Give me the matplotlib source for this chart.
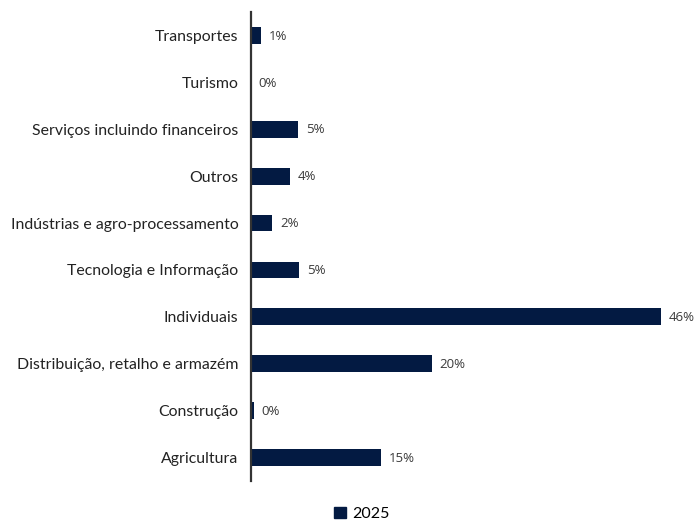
import matplotlib.pyplot as plt
from matplotlib.patches import Patch

# Sector shares, bottom to top as drawn
sectors = [
    "Agricultura",
    "Construção",
    "Distribuição, retalho e armazém",
    "Individuais",
    "Tecnologia e Informação",
    "Indústrias e agro-processamento",
    "Outros",
    "Serviços incluindo financeiros",
    "Turismo",
    "Transportes",
]
share_2025 = [14.6, 0.3, 20.3, 46.0, 5.4, 2.4, 4.4, 5.3, 0.0, 1.1]
series_name = "2025"

bar_color = "#031a42"
text_color = "#222222"
label_color = "#3a3a3a"

plt.rcParams["font.family"] = ["Lato", "DejaVu Sans"]

fig = plt.figure(figsize=(7.0, 5.22), dpi=100)
ax = fig.add_axes([251 / 700, 41 / 522, 439 / 700, 469 / 522])

ypos = list(range(len(sectors)))
bars = ax.barh(ypos, share_2025, height=0.36, color=bar_color)

for rect, val in zip(bars, share_2025):
    ax.annotate(
        f"{val:.0f}%",
        xy=(rect.get_width(), rect.get_y() + rect.get_height() / 2),
        xytext=(5.5, -0.5),
        textcoords="offset points",
        va="center",
        ha="left",
        fontsize=9.5,
        fontweight="medium",
        color=label_color,
        family=["Open Sans", "DejaVu Sans"],
    )

ax.set_xlim(0, 49.25)
ax.set_ylim(-0.5, len(sectors) - 0.5)
ax.set_yticks(ypos)
ax.set_yticklabels(sectors, fontsize=11.4, color=text_color)
ax.tick_params(axis="y", length=0, pad=9)
ax.set_xticks([])

for side in ("top", "right", "bottom"):
    ax.spines[side].set_visible(False)
ax.spines["left"].set_color("#333333")
ax.spines["left"].set_linewidth(1.6)

fig.legend(
    handles=[Patch(color=bar_color, label=series_name)],
    loc="center",
    bbox_to_anchor=(0.517, 0.015),
    frameon=False,
    fontsize=11.5,
    handlelength=0.7,
    handleheight=0.7,
    handletextpad=0.4,
)

fig.savefig("out.png", dpi=100, facecolor="white")
